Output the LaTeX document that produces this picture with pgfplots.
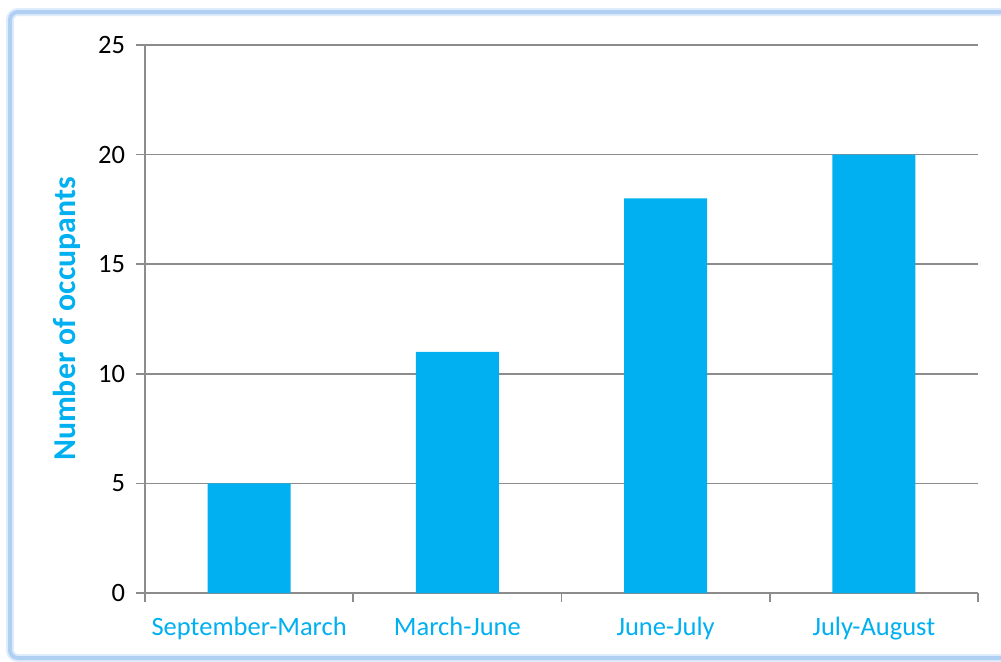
\documentclass[border=0pt]{standalone}
\usepackage{pgfplots}
\pgfplotsset{compat=1.18}
\usepackage{fontspec}
\setmainfont{Carlito}
\definecolor{barblue}{HTML}{00B0F0}
\definecolor{gridgray}{HTML}{8C8C8C}
\definecolor{glow}{RGB}{175,207,243}
\definecolor{glowlight}{RGB}{222,236,251}
\begin{document}
\begin{tikzpicture}
\useasboundingbox (0,0) rectangle (500.5pt,330.5pt);
\fill[white] (0,0) rectangle (500.5pt,330.5pt);
\draw[glowlight, line width=4pt, rounded corners=4pt] (5pt,1.5pt) rectangle (510pt,324.5pt);
\draw[glow, line width=2pt, rounded corners=4pt] (5pt,1.5pt) rectangle (510pt,324.5pt);
\begin{axis}[
  at={(72.5pt,34pt)}, anchor=south west,
  scale only axis,
  width=416.5pt, height=274pt,
  xmin=-0.5, xmax=3.5,
  ymin=0, ymax=25,
  ytick={0,5,10,15,20,25},
  xtick={-0.5,0.5,1.5,2.5,3.5},
  xticklabels={},
  extra x ticks={0,1,2,3},
  extra x tick labels={September-March,March-June,June-July,July-August},
  extra x tick style={major tick length=0pt, xmajorgrids=false,
    xticklabel style={text=barblue, anchor=base, yshift=-21pt}},
  major tick length=4.5pt,
  tick align=outside,
  tick style={gridgray, line width=0.8pt},
  axis x line*=bottom, axis y line*=left,
  axis line style={gridgray, line width=0.8pt, -},
  ymajorgrids,
  grid style={gridgray, line width=0.8pt},
  font=\fontsize{13.25pt}{15pt}\selectfont,
  /pgf/number format/assume math mode=true,
  yticklabel style={anchor=east, xshift=-2pt},
  ylabel={\textbf{Number of occupants}},
  ylabel style={at={(axis description cs:-0.094,0.5)}, anchor=center, text=barblue, font=\fontsize{15.9pt}{18pt}\selectfont},
  bar width=41.5pt,
  enlarge x limits=false,
]
\addplot[ybar, fill=barblue, draw=none] coordinates {(0,5) (1,11) (2,18) (3,20)};
\end{axis}
\end{tikzpicture}
\end{document}
